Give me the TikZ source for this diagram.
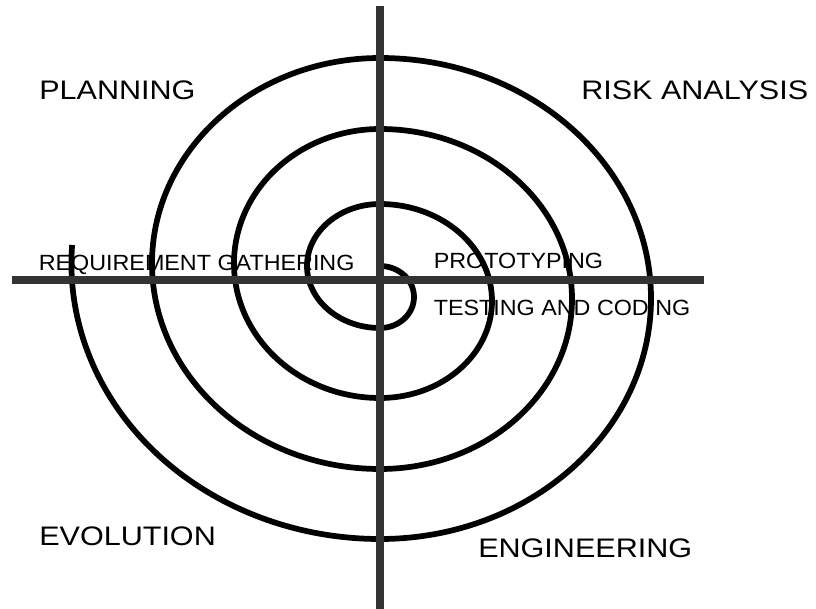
\documentclass[tikz,border=0pt]{standalone}
\usepackage{fontspec}
\setmainfont{Liberation Sans}
\newfontfamily\bigfont[FakeStretch=1.14]{Liberation Sans}
\newfontfamily\smallfont[FakeStretch=1.06]{Liberation Sans}
\definecolor{axisgray}{HTML}{333333}
\begin{document}
\begin{tikzpicture}[x=0.75pt,y=-0.75pt,
  axisline/.style={line width=6.4pt, draw=axisgray},
  spiralline/.style={line width=4.3pt, draw=black},
  bigtext/.style={font=\bigfont\fontsize{20.1}{24}\selectfont, inner sep=0pt, anchor=base west},
  smalltext/.style={font=\smallfont\fontsize{16.5}{20}\selectfont, inner sep=0pt, anchor=base west}]
\useasboundingbox[fill=white] (0,0) rectangle (816,609);
% quadrant labels
\node[bigtext] (planning) at (39,100) {PLANNING};
\node[bigtext] (risk) at (581,100) {RISK ANALYSIS};
\node[bigtext] (evolution) at (39,545) {EVOLUTION};
\node[bigtext] (engineering) at (478,557) {ENGINEERING};
% inner labels
\node[smalltext] (req) at (38.5,270.7) {REQUIREMENT GATHERING};
\node[smalltext] (proto) at (433.5,269) {PROTOTYPING};
\node[smalltext] (test) at (433.5,315.7) {TESTING AND CODING};
% spiral
\coordinate (s0) at (380,266);
\draw[spiralline] (s0)
  arc[start angle=-90, end angle=90, x radius=34, y radius=31]
  arc[start angle=90, end angle=270, x radius=73, y radius=62]
  arc[start angle=-90, end angle=90, x radius=112, y radius=97]
  arc[start angle=90, end angle=270, x radius=146, y radius=134.5]
  arc[start angle=-90, end angle=90, x radius=192, y radius=170]
  arc[start angle=90, end angle=270, x radius=228, y radius=205.5]
  arc[start angle=-90, end angle=90, x radius=271, y radius=240.5]
  arc[start angle=90, end angle=183.85, x radius=308.6, y radius=275.5];
% axes
\coordinate (vtop) at (380,6);
\coordinate (vbot) at (380,609);
\coordinate (hleft) at (12,280);
\coordinate (hright) at (704,280);
\draw[axisline] (vtop) -- (vbot);
\draw[axisline] (hleft) -- (hright);
\end{tikzpicture}
\end{document}
